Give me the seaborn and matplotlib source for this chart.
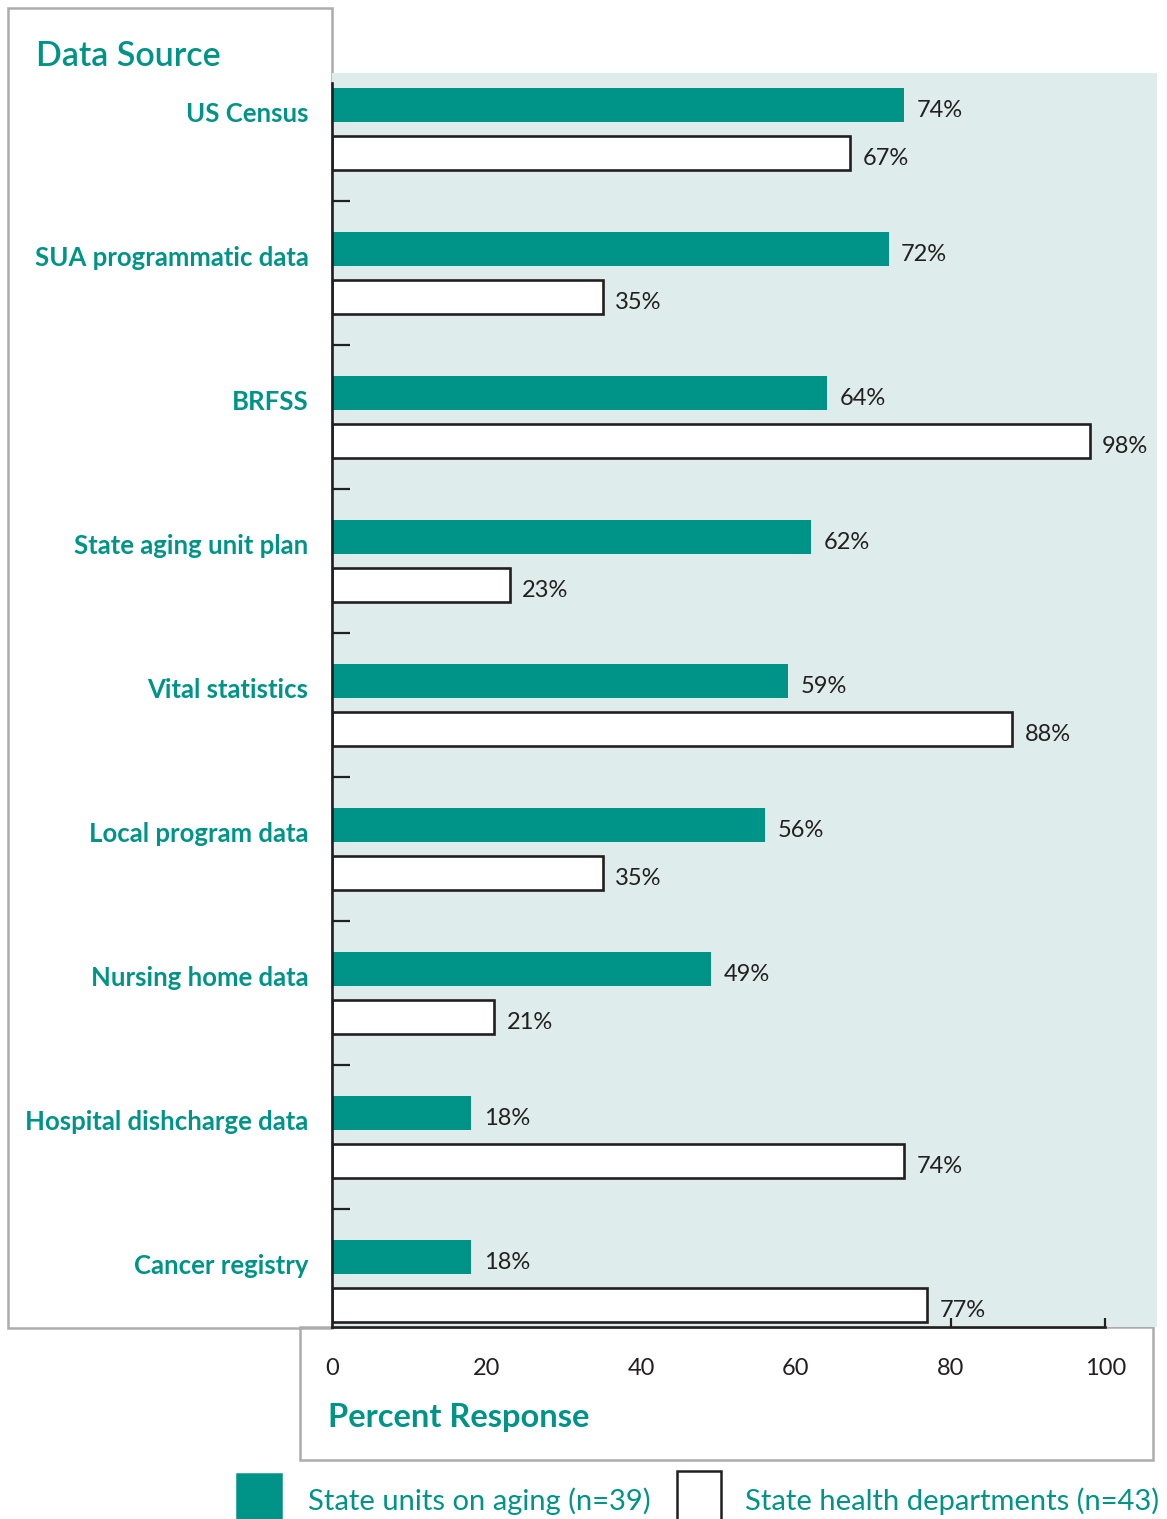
import matplotlib
matplotlib.use("Agg")
import matplotlib.pyplot as plt
from matplotlib.patches import Rectangle
import numpy as np
import pandas as pd
import seaborn as sns

sources = ["US Census", "SUA programmatic data", "BRFSS", "State aging unit plan",
           "Vital statistics", "Local program data", "Nursing home data",
           "Hospital dishcharge data", "Cancer registry"]
sua = [74, 72, 64, 62, 59, 56, 49, 18, 18]
shd = [67, 35, 98, 23, 88, 35, 21, 74, 77]
groups = ["State units on aging (n=39)", "State health departments (n=43)"]
xticks = [0, 20, 40, 60, 80, 100]

teal = "#009488"
panel = "#deedec"
dark = "#231f20"
grey = "#acacae"

sns.set_style("white")
plt.rcParams["font.family"] = ["Lato", "DejaVu Sans"]

df = pd.DataFrame({
    "source": sources * 2,
    "group": [groups[0]] * len(sources) + [groups[1]] * len(sources),
    "value": sua + shd,
})

W, H = 1167, 1519
fig = plt.figure(figsize=(W / 100, H / 100), dpi=100)

def px_box(x0, y0, x1, y1):
    # pixel coords (top-left origin) -> figure fraction rect
    return [x0 / W, 1 - y1 / H, (x1 - x0) / W, (y1 - y0) / H]

# frames around the label area and the x-axis area
for (x0, y0, x1, y1) in [(8, 8, 332, 1328), (300, 1327, 1153, 1460)]:
    b = px_box(x0, y0, x1, y1)
    fig.patches.append(Rectangle((b[0], b[1]), b[2], b[3], transform=fig.transFigure,
                                 fill=False, edgecolor=grey, linewidth=1.8, zorder=-5))

ax = fig.add_axes(px_box(332, 73, 1157, 1327))
sns.barplot(data=df, x="value", y="source", hue="group", hue_order=groups,
            palette=[teal, "white"], saturation=1, width=0.667, gap=0.29,
            linewidth=0, legend=False, ax=ax)
ax.set_facecolor(panel)

for bar in ax.containers[1]:
    bar.set_edgecolor(dark)
    bar.set_linewidth(1.9)

for cont, vals in zip(ax.containers, [sua, shd]):
    texts = ax.bar_label(cont, labels=[f"{v}%" for v in vals], padding=9,
                         fontsize=17, color=dark)
    for t in texts:
        t.set_y(t.get_position()[1] - 4)

n = len(sources)
ax.set_xlim(0, 106.7)
ax.set_ylim(8.32, -0.39)
ax.set_xticks(xticks)
ax.set_xticklabels([str(t) for t in xticks], fontsize=17, color=dark)
ax.tick_params(axis="x", bottom=True, direction="in", length=6.5, width=1.6,
               color=dark, pad=22)
for tick in ax.xaxis.get_major_ticks()[:4]:
    tick.tick1line.set_visible(False)
ax.set_yticks(np.arange(n) - 0.12)
ax.set_yticklabels(sources, fontsize=18.5, color=teal, fontweight="bold")
ax.tick_params(axis="y", which="major", left=True, length=0, pad=17)
ax.set_yticks(np.arange(n - 1) + 0.5, minor=True)
ax.tick_params(axis="y", which="minor", left=True, direction="in", length=13,
               width=1.6, color=dark)
ax.set_xlabel("")
ax.set_ylabel("")

for side in ["top", "right"]:
    ax.spines[side].set_visible(False)
for side in ["left", "bottom"]:
    ax.spines[side].set_color(dark)
    ax.spines[side].set_linewidth(1.9)
ax.spines["bottom"].set_bounds(0, 100)
ax.spines["left"].set_bounds(-0.32, 8.32)

fig.text(36 / W, 1 - 56 / H, "Data Source", fontsize=24.5, color=teal,
         fontweight="semibold", va="center")
fig.text(328 / W, 1 - 1417 / H, "Percent Response", fontsize=23.5, color=teal,
         fontweight="bold", va="center")

# legend
for (x0, y0), fc in [((237, 1474), teal), ((677, 1471), "white")]:
    b = px_box(x0, y0, x0 + 44, 1530)
    fig.patches.append(Rectangle((b[0], b[1]), b[2], b[3], transform=fig.transFigure,
                                 facecolor=fc, edgecolor=dark if fc == "white" else fc,
                                 linewidth=1.8))
fig.text(308 / W, 1 - 1501 / H, groups[0], fontsize=21, color=teal, va="center")
fig.text(745 / W, 1 - 1501 / H, groups[1], fontsize=21, color=teal, va="center")

fig.savefig("out.png", dpi=100)
